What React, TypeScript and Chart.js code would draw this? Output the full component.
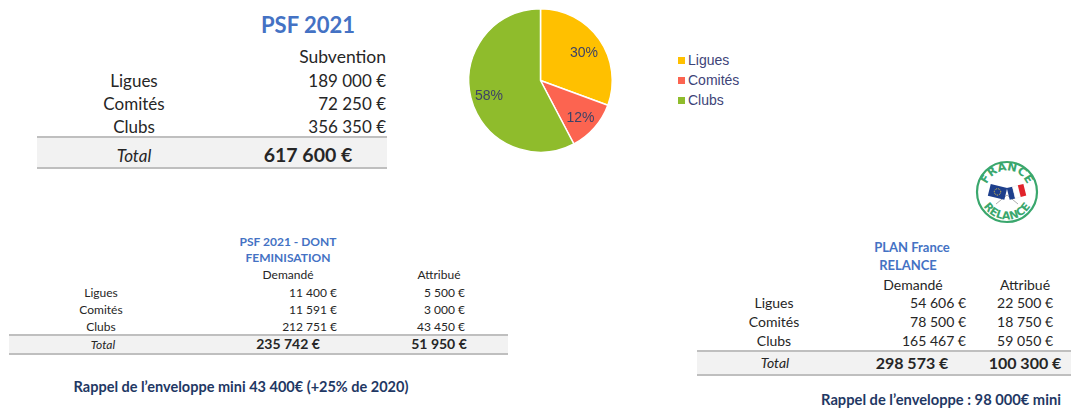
import React, { useEffect, useRef } from "react";
import { Chart, registerables } from "chart.js";

Chart.register(...registerables);

const categories = ["Ligues", "Comités", "Clubs"];
const subvention = [189000, 72250, 356350];
const femDemande = [11400, 11591, 212751];
const femAttribue = [5500, 3000, 43450];
const relanceDemande = [54606, 78500, 165467];
const relanceAttribue = [22500, 18750, 59050];
const pieColors = ["#FFC000", "#FC6450", "#8FBC2C"];

const FONT = "Lato, 'Open Sans', sans-serif";
const BLUE = "#4472C4";
const NAVY = "#1F3864";
const TXT = "#262626";

const sum = (a: number[]) => a.reduce((s, v) => s + v, 0);
const fmt = (n: number) => n.toString().replace(/\B(?=(\d{3})+(?!\d))/g, " ") + " €";

function percentLabels(values: number[]): string[] {
  const total = sum(values);
  const raw = values.map((v) => (v / total) * 100);
  const fl = raw.map((r) => Math.floor(r));
  let rest = 100 - sum(fl);
  const order = raw.map((r, i) => [r - Math.floor(r), i]).sort((a, b) => b[0] - a[0]);
  for (let k = 0; k < order.length && rest > 0; k++, rest--) fl[order[k][1]] += 1;
  return fl.map((p) => p + "%");
}

type TP = {
  x: number;
  y: number;
  text: string;
  size: number;
  align?: "c" | "r" | "l";
  bold?: boolean;
  italic?: boolean;
  color?: string;
};

function T({ x, y, text, size, align = "c", bold, italic, color = TXT }: TP) {
  const style: React.CSSProperties = {
    position: "absolute",
    top: y - size / 2,
    fontSize: size,
    lineHeight: size + "px",
    height: size,
    whiteSpace: "nowrap",
    fontFamily: FONT,
    fontWeight: bold ? 700 : 400,
    fontStyle: italic ? "italic" : "normal",
    color,
  };
  if (align === "c") {
    style.left = x;
    style.transform = "translateX(-50%)";
  } else if (align === "r") {
    style.right = 1071 - x;
  } else {
    style.left = x;
  }
  return <div style={style}>{text}</div>;
}

function Band({ x1, x2, y1, y2 }: { x1: number; x2: number; y1: number; y2: number }) {
  return (
    <div
      style={{
        position: "absolute",
        left: x1,
        top: y1,
        width: x2 - x1,
        height: y2 - y1,
        background: "#F2F2F2",
        borderTop: "2px solid #BFBFBF",
        borderBottom: "2px solid #BFBFBF",
        boxSizing: "border-box",
      }}
    />
  );
}

function PieChart() {
  const ref = useRef<HTMLCanvasElement | null>(null);
  useEffect(() => {
    if (!ref.current) return;
    const labels = percentLabels(subvention);
    const labelPlugin = {
      id: "pctLabels",
      afterDatasetsDraw(chart: any) {
        const ctx = chart.ctx;
        const meta = chart.getDatasetMeta(0);
        ctx.save();
        ctx.font = "14px 'Liberation Sans', Arial, sans-serif";
        ctx.fillStyle = "#3E4266";
        ctx.textAlign = "center";
        ctx.textBaseline = "middle";
        meta.data.forEach((arc: any, i: number) => {
          const p = arc.getProps(["x", "y", "startAngle", "endAngle", "outerRadius"], true);
          const mid = (p.startAngle + p.endAngle) / 2;
          const r = p.outerRadius * 0.74;
          ctx.fillText(labels[i], p.x + Math.cos(mid) * r, p.y + Math.sin(mid) * r + 3);
        });
        ctx.restore();
      },
    };
    const chart = new Chart(ref.current, {
      type: "pie",
      data: {
        labels: categories,
        datasets: [
          {
            data: subvention,
            backgroundColor: pieColors,
            borderColor: "#FFFFFF",
            borderWidth: 1.5,
          },
        ],
      },
      options: {
        animation: false,
        responsive: false,
        maintainAspectRatio: false,
        layout: { padding: 8 },
        plugins: { legend: { display: false }, tooltip: { enabled: false } },
      },
      plugins: [labelPlugin],
    });
    return () => chart.destroy();
  }, []);
  return (
    <canvas
      ref={ref}
      width={161}
      height={161}
      style={{ position: "absolute", left: 460, top: 0, width: 161, height: 161 }}
    />
  );
}

function Logo() {
  const G = "#3AA76D";
  return (
    <svg
      width={70}
      height={70}
      viewBox="0 0 70 70"
      style={{ position: "absolute", left: 972, top: 157 }}
    >
      <defs>
        <path id="topArc" d="M 13.5 35 A 21.5 21.5 0 0 1 56.5 35" />
        <path id="botArc" d="M 7.5 35 A 27.5 27.5 0 0 0 62.5 35" />
      </defs>
      <circle cx={35} cy={35} r={30} fill="#FFFFFF" stroke={G} strokeWidth={2.2} />
      <text fontFamily="'DejaVu Sans', sans-serif" fontWeight={700} fontSize={11.5} fill={G}>
        <textPath href="#topArc" startOffset="50%" textAnchor="middle">
          FRANCE
        </textPath>
      </text>
      <text fontFamily="'DejaVu Sans', sans-serif" fontWeight={700} fontSize={11} fill={G}>
        <textPath href="#botArc" startOffset="50%" textAnchor="middle">
          RELANCE
        </textPath>
      </text>
      <line x1={24} y1={47} x2={35} y2={38} stroke="#999" strokeWidth={0.8} />
      <line x1={46} y1={47} x2={35} y2={38} stroke="#999" strokeWidth={0.8} />
      <g transform="rotate(14 26 35)">
        <rect x={17} y={29} width={17} height={12} fill="#1E3F8C" />
        <circle cx={25.5} cy={35} r={3.2} fill="none" stroke="#F4D03F" strokeWidth={0.9} strokeDasharray="0.9 0.9" />
      </g>
      <g transform="rotate(-14 44 35)">
        <rect x={36} y={29} width={5.7} height={12} fill="#1E3F8C" />
        <rect x={41.7} y={29} width={5.7} height={12} fill="#FFFFFF" stroke="#ddd" strokeWidth={0.3} />
        <rect x={47.4} y={29} width={5.7} height={12} fill="#E1242B" />
      </g>
    </svg>
  );
}

export default function App() {
  const subTotal = sum(subvention);
  const rowY1 = [80, 103, 126];
  const rowY2 = [293, 310, 327];
  const rowY3 = [303, 322, 341];
  return (
    <div
      style={{
        position: "fixed",
        left: 0,
        top: 0,
        width: 1071,
        height: 408,
        background: "#FFFFFF",
        overflow: "hidden",
      }}
    >
      {/* Top table */}
      <T x={308} y={25} text="PSF 2021" size={22} bold color={BLUE} />
      <T x={386} y={57} text="Subvention" size={17.5} align="r" />
      {categories.map((c, i) => (
        <React.Fragment key={c}>
          <T x={134} y={rowY1[i]} text={c} size={17} />
          <T x={386} y={rowY1[i]} text={fmt(subvention[i])} size={17} align="r" />
        </React.Fragment>
      ))}
      <Band x1={37} x2={387} y1={136} y2={169} />
      <T x={134} y={155} text="Total" size={17} italic />
      <T x={308} y={155} text={fmt(subTotal)} size={19.5} bold />

      {/* Pie + legend */}
      <PieChart />
      {categories.map((c, i) => (
        <React.Fragment key={"lg" + c}>
          <div
            style={{
              position: "absolute",
              left: 678,
              top: 57 + i * 20,
              width: 7,
              height: 7,
              background: pieColors[i],
            }}
          />
          <div
            style={{
              position: "absolute",
              left: 688,
              top: 53 + i * 20,
              fontFamily: "'Liberation Sans', Arial, sans-serif",
              fontSize: 14,
              lineHeight: "14px",
              color: "#3E4478",
              whiteSpace: "nowrap",
            }}
          >
            {c}
          </div>
        </React.Fragment>
      ))}

      {/* Lower left table */}
      <T x={288} y={242} text="PSF 2021 - DONT" size={12} bold color={BLUE} />
      <T x={288} y={258} text="FEMINISATION" size={12} bold color={BLUE} />
      <T x={288} y={275} text="Demandé" size={12} />
      <T x={439} y={275} text="Attribué" size={12} />
      {categories.map((c, i) => (
        <React.Fragment key={"f" + c}>
          <T x={101} y={rowY2[i]} text={c} size={12} />
          <T x={337} y={rowY2[i]} text={fmt(femDemande[i])} size={12} align="r" />
          <T x={465} y={rowY2[i]} text={fmt(femAttribue[i])} size={12} align="r" />
        </React.Fragment>
      ))}
      <Band x1={9} x2={508} y1={334} y2={355} />
      <T x={103} y={345} text="Total" size={12} italic />
      <T x={288} y={344} text={fmt(sum(femDemande))} size={14} bold />
      <T x={439} y={344} text={fmt(sum(femAttribue))} size={14} bold />
      <T x={241} y={387} text="Rappel de l’enveloppe mini 43 400€ (+25% de 2020)" size={14.5} bold color={NAVY} />

      {/* Right table */}
      <Logo />
      <T x={912} y={247} text="PLAN France" size={13} bold color={BLUE} />
      <T x={908} y={265} text="RELANCE" size={13} bold color={BLUE} />
      <T x={913} y={285} text="Demandé" size={14} />
      <T x={1025} y={285} text="Attribué" size={14} />
      {categories.map((c, i) => (
        <React.Fragment key={"r" + c}>
          <T x={774} y={rowY3[i]} text={c} size={14} />
          <T x={966} y={rowY3[i]} text={fmt(relanceDemande[i])} size={14} align="r" />
          <T x={1053} y={rowY3[i]} text={fmt(relanceAttribue[i])} size={14} align="r" />
        </React.Fragment>
      ))}
      <Band x1={697} x2={1071} y1={350} y2={376} />
      <T x={775} y={363} text="Total" size={14} italic />
      <T x={912} y={363} text={fmt(sum(relanceDemande))} size={16} bold />
      <T x={1025} y={363} text={fmt(sum(relanceAttribue))} size={16} bold />
      <T x={941} y={399} text="Rappel de l’enveloppe : 98 000€ mini" size={14.7} bold color={NAVY} />
    </div>
  );
}
